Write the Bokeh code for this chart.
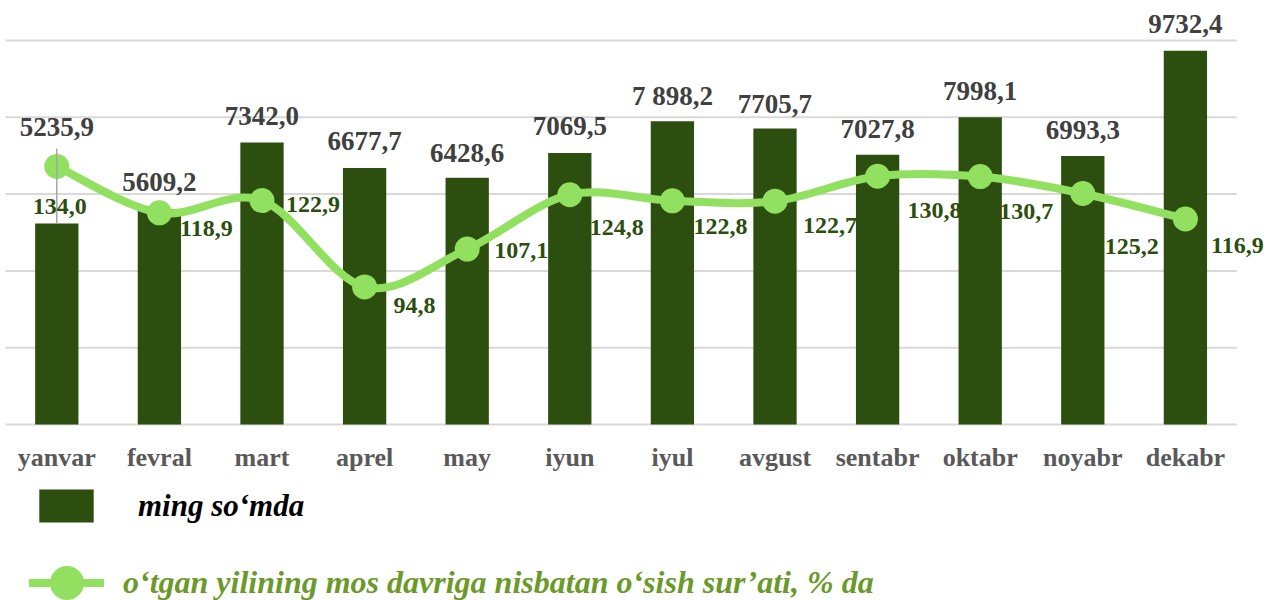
from bokeh.plotting import figure
from bokeh.models import Range1d, Legend, LegendItem, ColumnDataSource
from bokeh.core.properties import value
from bokeh.embed import file_html
from bokeh.resources import INLINE

# ---------------- data ----------------
months = ["yanvar", "fevral", "mart", "aprel", "may", "iyun",
          "iyul", "avgust", "sentabr", "oktabr", "noyabr", "dekabr"]
income = [5235.9, 5609.2, 7342.0, 6677.7, 6428.6, 7069.5,
          7898.2, 7705.7, 7027.8, 7998.1, 6993.3, 9732.4]
income_labels = ["5235,9", "5609,2", "7342,0", "6677,7", "6428,6", "7069,5",
                 "7 898,2", "7705,7", "7027,8", "7998,1", "6993,3", "9732,4"]
growth = [134.0, 118.9, 122.9, 94.8, 107.1, 124.8,
          122.8, 122.7, 130.8, 130.7, 125.2, 116.9]
grid_ticks = [0, 2000, 4000, 6000, 8000, 10000]
bar_name = "ming so\u2018mda"
line_name = "o\u2018tgan yilining mos davriga nisbatan o\u2018sish sur\u2019ati, % da"

# ---------------- style ----------------
BAR = "#2c4e0e"
LINE = "#92e060"
FONT = value("Liberation Serif")
W, H = 1267, 600
# label offsets in pixels (style only)
bar_label_dy = [-96, -27, -27, -27, -25, -27, -25, -25, -26, -26, -26, -27]
growth_label_dx = [3, 47, 51, 50, 54, 47, 48, 55, 57, 46, 49, 52]
growth_label_dy = [40, 16, 4, 19, 1, 33, 26, 24, 34, 35, 53, 27]

n = len(months)
xs = list(range(n))

x_range = Range1d(-0.5487, -0.5487 + W / 102.6)
y_range = Range1d(-4583.3, 11041.7)
px_per_unit = H / (y_range.end - y_range.start)

p = figure(width=W, height=H, x_range=x_range, y_range=y_range,
           output_backend="svg", toolbar_location=None,
           x_axis_location=None, y_axis_location=None,
           min_border=0, outline_line_color=None)
p.xgrid.visible = False
p.ygrid.visible = False
p.extra_y_ranges = {"pct": Range1d(-7.29, 188.02)}

# gridlines
p.segment(x0=[-0.5] * len(grid_ticks), x1=[n - 0.5] * len(grid_ticks),
          y0=grid_ticks, y1=grid_ticks, line_color="#d9d9d9", line_width=2)

# bars
src = ColumnDataSource(dict(x=xs, top=income, lab=income_labels, dy=bar_label_dy,
                            month=months, g=growth,
                            glab=[f"{v:.1f}".replace(".", ",") for v in growth],
                            gdx=growth_label_dx, gdy=growth_label_dy))
bars = p.vbar(x="x", top="top", bottom=0, width=0.422, source=src,
              fill_color=BAR, line_color=None)

# smoothed line (Catmull-Rom bezier segments between the data points)
bx0, by0, bx1, by1, cx0, cy0, cx1, cy1 = [], [], [], [], [], [], [], []
for i in range(n - 1):
    xp, yp = (i - 1, growth[i - 1]) if i > 0 else (i, growth[i])
    xn, yn = (i + 2, growth[i + 2]) if i + 2 < n else (i + 1, growth[i + 1])
    bx0.append(i); by0.append(growth[i])
    bx1.append(i + 1); by1.append(growth[i + 1])
    cx0.append(i + (i + 1 - xp) / 6); cy0.append(growth[i] + (growth[i + 1] - yp) / 6)
    cx1.append(i + 1 - (xn - i) / 6); cy1.append(growth[i + 1] - (yn - growth[i]) / 6)
curve = p.bezier(x0=bx0, y0=by0, x1=bx1, y1=by1, cx0=cx0, cy0=cy0, cx1=cx1, cy1=cy1,
                 line_color=LINE, line_width=8, line_cap="round", y_range_name="pct")
dots = p.scatter(x="x", y="g", source=src, size=21, fill_color=LINE,
                 line_color=LINE, line_width=4, y_range_name="pct")

# leader line for the first label
p.segment(x0=[0], x1=[0], y0=[income[0]], y1=[income[0] + 75 / px_per_unit],
          line_color="#a6a6a6", line_width=1.5)

# bar value labels
p.text(x="x", y="top", text="lab", y_offset="dy", source=src, text_font=FONT,
       text_font_style="bold", text_font_size="27px", text_color="#404040",
       text_align="center", text_baseline="middle")
# growth labels
p.text(x="x", y="g", text="glab", x_offset="gdx", y_offset="gdy", source=src,
       y_range_name="pct", text_font=FONT, text_font_style="bold",
       text_font_size="24px", text_color=BAR, text_align="center",
       text_baseline="middle")
# category labels (x axis)
p.text(x="x", y=0, text="month", y_offset=33, source=src, text_font=FONT,
       text_font_style="bold", text_font_size="26px", text_color="#595959",
       text_align="center", text_baseline="middle")

# legends
common = dict(padding=0, margin=0, border_line_color=None, background_fill_alpha=0,
              label_text_font="'Liberation Serif', 'Times New Roman', serif",
              label_text_font_style="bold italic")
leg1 = Legend(items=[LegendItem(label=bar_name, renderers=[bars])],
              location=(32, 74), glyph_width=68, glyph_height=41,
              label_standoff=38, label_text_color="#000000",
              label_text_font_size="31px", **common)
leg2 = Legend(items=[LegendItem(label=line_name, renderers=[curve, dots])],
              location=(29, -20), glyph_width=75, glyph_height=75,
              label_standoff=19, label_text_color="#6b9a2b",
              label_text_font_size="32px", **common)
p.add_layout(leg1)
p.add_layout(leg2)

open("out.html", "w").write(file_html(p, INLINE))
